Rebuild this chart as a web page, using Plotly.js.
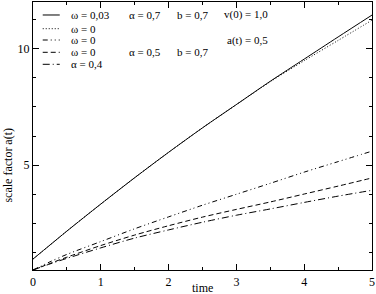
<!DOCTYPE html>
<html>
<head>
<meta charset="utf-8">
<script src="https://cdn.plot.ly/plotly-3.0.1.min.js"></script>
<style>html,body{margin:0;padding:0;background:#fff;}#chart{width:376px;height:294px;}</style>
</head>
<body>
<div id="chart"></div>
<script>
// time values
const time = [0, 0.25, 0.5, 1, 1.5, 2, 2.5, 3, 3.5, 4, 4.5, 5];
// scale factor a(t) for each model
const omega003 = [0.97, 1.57, 2.17, 3.33, 4.46, 5.55, 6.6, 7.6, 8.6, 9.55, 10.5, 11.44];
const omega0 = [0.97, 1.57, 2.17, 3.33, 4.46, 5.55, 6.6, 7.6, 8.58, 9.48, 10.35, 11.22];
const omega0a05 = [0.5, 0.85, 1.17, 1.72, 2.27, 2.78, 3.28, 3.75, 4.22, 4.7, 5.15, 5.6];
const omega0alpha05 = [0.5, 0.78, 1.05, 1.55, 2.0, 2.4, 2.77, 3.1, 3.42, 3.76, 4.1, 4.45];
const alpha04 = [0.5, 0.76, 1.0, 1.45, 1.87, 2.22, 2.55, 2.85, 3.12, 3.4, 3.67, 3.92];

const xTickLabels = ['0', '1', '2', '3', '4', '5'];
const yTickLabels = ['5', '10'];

const FONT = 'Liberation Serif, Times New Roman, serif';
const dashes = ['solid', '1px,2px', '5px,3px,1px,3px,1px,3px', '5px,3px', '7px,3px,1px,3px'];
const series = [omega003, omega0, omega0a05, omega0alpha05, alpha04];

const traces = series.map((s, i) => ({
  x: time, y: s, type: 'scatter', mode: 'lines',
  line: {color: '#000', width: 1, dash: dashes[i], shape: 'spline', smoothing: 0.8},
  showlegend: false, hoverinfo: 'skip'
}));

// legend geometry (paper coords)
const rowsY = [0.9515, 0.9004, 0.8582, 0.8123, 0.7675];
const shapes = rowsY.map((y, i) => ({
  type: 'line', xref: 'paper', yref: 'paper', x0: 0.0287, x1: 0.0789, y0: y, y1: y,
  line: {color: '#000', width: 1, dash: dashes[i]}
}));

const legendTexts = [
  ['ω = 0,03', 0.1085, 0], ['α = 0,7', 0.2798, 0], ['b = 0,7', 0.4217, 0], ['v(0) = 1,0', 0.5606, 0],
  ['ω = 0', 0.1085, 1],
  ['ω = 0', 0.1085, 2], ['a(t) = 0,5', 0.5695, 2],
  ['ω = 0', 0.1085, 3], ['α = 0,5', 0.2798, 3], ['b = 0,7', 0.4217, 3],
  ['α = 0,4', 0.1085, 4]
];
const annotations = legendTexts.map(([t, x, r]) => ({
  text: t, xref: 'paper', yref: 'paper', x: x, y: rowsY[r],
  xanchor: 'left', yanchor: 'middle', showarrow: false,
  font: {family: FONT, size: 11, color: '#000'}, borderpad: 0
}));
annotations.push({
  text: 'scale factor a(t)', xref: 'paper', yref: 'paper', x: -0.0748, y: 0.392,
  xanchor: 'center', yanchor: 'middle', textangle: -90, showarrow: false,
  font: {family: FONT, size: 12, color: '#000'}
});
annotations.push({
  text: 'time', xref: 'paper', yref: 'paper', x: 0.5, y: -0.067,
  xanchor: 'center', yanchor: 'middle', showarrow: false,
  font: {family: FONT, size: 12, color: '#000'}
});

const layout = {
  width: 376, height: 294,
  margin: {l: 33, r: 4, t: 2, b: 24},
  paper_bgcolor: '#fff', plot_bgcolor: '#fff',
  showlegend: false,
  font: {family: FONT, size: 12, color: '#000'},
  xaxis: {
    range: [0, 5], tickmode: 'array', tickvals: [0, 1, 2, 3, 4, 5], ticktext: xTickLabels,
    ticks: 'inside', ticklen: 6, tickwidth: 1, tickcolor: '#000',
    minor: {dtick: 0.5, tick0: 0, ticks: 'inside', ticklen: 3, tickcolor: '#000', showgrid: false},
    showline: true, linecolor: '#000', linewidth: 1.2, mirror: 'allticks',
    showgrid: false, zeroline: false, fixedrange: true,
    tickfont: {family: FONT, size: 12, color: '#000'}
  },
  yaxis: {
    range: [0.5, 12], tickmode: 'array', tickvals: [5, 10], ticktext: yTickLabels,
    ticks: 'inside', ticklen: 6, tickwidth: 1, tickcolor: '#000',
    minor: {dtick: 1.25, tick0: 0, ticks: 'inside', ticklen: 3, tickcolor: '#000', showgrid: false},
    showline: true, linecolor: '#000', linewidth: 1.2, mirror: 'allticks',
    showgrid: false, zeroline: false, fixedrange: true,
    tickfont: {family: FONT, size: 12, color: '#000'}
  },
  shapes: shapes,
  annotations: annotations
};

Plotly.newPlot('chart', traces, layout, {staticPlot: true, displayModeBar: false});
</script>
</body>
</html>
